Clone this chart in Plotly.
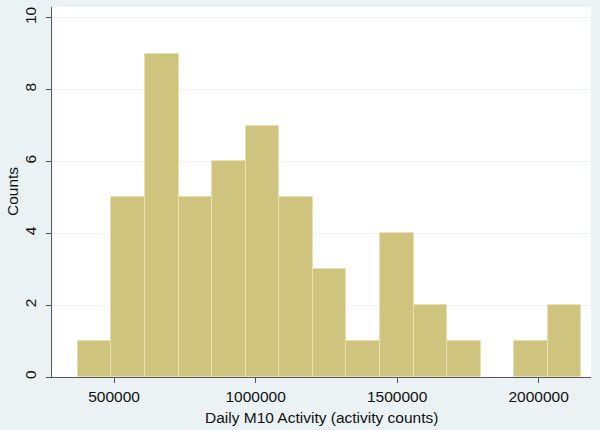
import plotly.graph_objects as go

bin_start = 372000
bin_width = 118600
counts = [1, 5, 9, 5, 6, 7, 5, 3, 1, 4, 2, 1, 0, 1, 2]
x_ticks = [500000, 1000000, 1500000, 2000000]
y_ticks = [0, 2, 4, 6, 8, 10]
x_title = "Daily M10 Activity (activity counts)"
y_title = "Counts"

centers = [bin_start + bin_width * (i + 0.5) for i in range(len(counts))]
line_colors = ["#E6E0AE" if c > 0 else "rgba(0,0,0,0)" for c in counts]

fig = go.Figure()
fig.add_trace(go.Bar(
    x=centers, y=counts, width=[bin_width] * len(counts),
    marker=dict(color="#CEC47E", line=dict(color=line_colors, width=1)),
    hoverinfo="x+y",
))

font = "Liberation Sans, Arial, sans-serif"
fig.update_layout(
    width=600, height=430,
    margin=dict(l=52, r=9, t=7, b=53),
    paper_bgcolor="#EAF2F3",
    plot_bgcolor="#FFFFFF",
    showlegend=False,
    bargap=0,
    font=dict(family=font, size=15.5, color="#111111"),
    xaxis=dict(
        range=[280800, 2185000],
        tickvals=x_ticks, ticktext=[str(v) for v in x_ticks],
        ticks="outside", ticklen=5, tickcolor="#555555",
        showline=True, linecolor="#555555", linewidth=1,
        showgrid=False, zeroline=False, automargin=False,
    ),
    yaxis=dict(
        range=[0, 10.3],
        tickvals=y_ticks, ticktext=[str(v) for v in y_ticks],
        tickangle=-90, ticklabelstandoff=4,
        ticks="outside", ticklen=5, tickcolor="#555555",
        showline=True, linecolor="#555555", linewidth=1,
        showgrid=True, gridcolor="#EEF4F5", gridwidth=1,
        zeroline=False, automargin=False,
    ),
    annotations=[
        dict(
            text=x_title, xref="paper", yref="paper", x=0.5, y=0,
            xanchor="center", yanchor="middle", yshift=-40, showarrow=False,
            font=dict(size=15.5),
        ),
        dict(
            text=y_title, xref="paper", yref="paper", x=0, y=0.5,
            xanchor="center", yanchor="middle", xshift=-40, textangle=-90,
            showarrow=False, font=dict(size=15.5),
        ),
    ],
)

fig.write_html(
    "out.html",
    config={"displayModeBar": False},
    post_script="document.body.style.margin='0';document.body.style.background='#EAF2F3';",
)
